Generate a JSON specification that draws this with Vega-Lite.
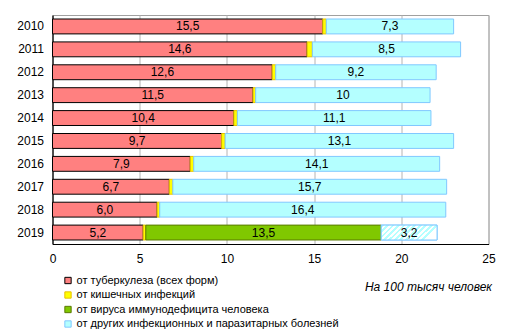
{
  "$schema": "https://vega.github.io/schema/vega-lite/v6.json",
  "width": 436,
  "height": 229,
  "autosize": {"type": "none"},
  "padding": {"left": 52.5, "top": 15, "right": 22.5, "bottom": 90},
  "background": "white",
  "config": {
    "font": "Liberation Sans",
    "view": {"stroke": "#a0a0a0", "strokeWidth": 1}
  },
  "data": {
    "values": [
      {"year": "2010", "k": 1, "cat": "от туберкулеза (всех форм)", "value": 15.5, "label": "15,5"},
      {"year": "2010", "k": 2, "cat": "от кишечных инфекций", "value": 0.2, "label": ""},
      {"year": "2010", "k": 4, "cat": "от других инфекционных  и  паразитарных болезней", "value": 7.3, "label": "7,3"},
      {"year": "2011", "k": 1, "cat": "от туберкулеза (всех форм)", "value": 14.6, "label": "14,6"},
      {"year": "2011", "k": 2, "cat": "от кишечных инфекций", "value": 0.3, "label": ""},
      {"year": "2011", "k": 4, "cat": "от других инфекционных  и  паразитарных болезней", "value": 8.5, "label": "8,5"},
      {"year": "2012", "k": 1, "cat": "от туберкулеза (всех форм)", "value": 12.6, "label": "12,6"},
      {"year": "2012", "k": 2, "cat": "от кишечных инфекций", "value": 0.2, "label": ""},
      {"year": "2012", "k": 4, "cat": "от других инфекционных  и  паразитарных болезней", "value": 9.2, "label": "9,2"},
      {"year": "2013", "k": 1, "cat": "от туберкулеза (всех форм)", "value": 11.5, "label": "11,5"},
      {"year": "2013", "k": 2, "cat": "от кишечных инфекций", "value": 0.15, "label": ""},
      {"year": "2013", "k": 4, "cat": "от других инфекционных  и  паразитарных болезней", "value": 10, "label": "10"},
      {"year": "2014", "k": 1, "cat": "от туберкулеза (всех форм)", "value": 10.4, "label": "10,4"},
      {"year": "2014", "k": 2, "cat": "от кишечных инфекций", "value": 0.2, "label": ""},
      {"year": "2014", "k": 4, "cat": "от других инфекционных  и  паразитарных болезней", "value": 11.1, "label": "11,1"},
      {"year": "2015", "k": 1, "cat": "от туберкулеза (всех форм)", "value": 9.7, "label": "9,7"},
      {"year": "2015", "k": 2, "cat": "от кишечных инфекций", "value": 0.2, "label": ""},
      {"year": "2015", "k": 4, "cat": "от других инфекционных  и  паразитарных болезней", "value": 13.1, "label": "13,1"},
      {"year": "2016", "k": 1, "cat": "от туберкулеза (всех форм)", "value": 7.9, "label": "7,9"},
      {"year": "2016", "k": 2, "cat": "от кишечных инфекций", "value": 0.2, "label": ""},
      {"year": "2016", "k": 4, "cat": "от других инфекционных  и  паразитарных болезней", "value": 14.1, "label": "14,1"},
      {"year": "2017", "k": 1, "cat": "от туберкулеза (всех форм)", "value": 6.7, "label": "6,7"},
      {"year": "2017", "k": 2, "cat": "от кишечных инфекций", "value": 0.2, "label": ""},
      {"year": "2017", "k": 4, "cat": "от других инфекционных  и  паразитарных болезней", "value": 15.7, "label": "15,7"},
      {"year": "2018", "k": 1, "cat": "от туберкулеза (всех форм)", "value": 6.0, "label": "6,0"},
      {"year": "2018", "k": 2, "cat": "от кишечных инфекций", "value": 0.15, "label": ""},
      {"year": "2018", "k": 4, "cat": "от других инфекционных  и  паразитарных болезней", "value": 16.4, "label": "16,4"},
      {"year": "2019", "k": 1, "cat": "от туберкулеза (всех форм)", "value": 5.2, "label": "5,2"},
      {"year": "2019", "k": 2, "cat": "от кишечных инфекций", "value": 0.15, "label": ""},
      {"year": "2019", "k": 3, "cat": "от вируса иммунодефицита человека", "value": 13.5, "label": "13,5"},
      {"year": "2019", "k": 4, "cat": "от других инфекционных  и  паразитарных болезней", "value": 3.2, "label": "3,2"}
    ]
  },
  "transform": [
    {"stack": "value", "groupby": ["year"], "sort": [{"field": "k", "order": "ascending"}], "as": ["x0", "x1"]},
    {"calculate": "(datum.x0 + datum.x1) / 2", "as": "mid"}
  ],
  "encoding": {
    "y": {
      "field": "year",
      "type": "nominal",
      "sort": "ascending",
      "scale": {"paddingInner": 0.35, "paddingOuter": 0.175},
      "axis": {
        "title": null,
        "ticks": false,
        "labelPadding": 9,
        "labelFontSize": 12,
        "labelColor": "#000000",
        "domainColor": "#000000",
        "domainWidth": 1.2
      }
    }
  },
  "layer": [
    {
      "mark": {"type": "bar", "strokeWidth": 1},
      "encoding": {
        "x": {
          "field": "x0",
          "type": "quantitative",
          "scale": {"domain": [0, 25], "nice": false},
          "axis": {
            "values": [0, 5, 10, 15, 20, 25],
            "title": "На 100 тысяч человек",
            "titleFontStyle": "italic",
            "titleFontWeight": "normal",
            "titleFontSize": 12,
            "titleColor": "#000000",
            "titleAnchor": "end",
            "titleAlign": "right",
            "titleBaseline": "alphabetic",
            "titleX": 439,
            "titleY": 46,
            "ticks": false,
            "labelPadding": 9,
            "labelFontSize": 12,
            "labelColor": "#000000",
            "labelFlush": false,
            "domainColor": "#000000",
            "domainWidth": 1.2,
            "grid": true,
            "gridColor": "#b4b4b4",
            "gridWidth": 1
          }
        },
        "x2": {"field": "x1"},
        "fill": {
          "field": "cat",
          "type": "nominal",
          "scale": {
            "domain": ["от туберкулеза (всех форм)", "от кишечных инфекций", "от вируса иммунодефицита человека", "от других инфекционных  и  паразитарных болезней"],
            "range": ["#ff8080", "#ffff00", "#80c800", "#b4ffff"]
          },
          "legend": {
            "title": null,
            "orient": "none",
            "legendX": 10,
            "legendY": 260,
            "symbolType": "square",
            "symbolSize": 40,
            "symbolStrokeWidth": 1,
            "labelFontSize": 11,
            "labelColor": "#000000",
            "labelOffset": 3,
            "labelLimit": 400,
            "rowPadding": 2.5
          }
        },
        "stroke": {
          "field": "cat",
          "type": "nominal",
          "scale": {
            "domain": ["от туберкулеза (всех форм)", "от кишечных инфекций", "от вируса иммунодефицита человека", "от других инфекционных  и  паразитарных болезней"],
            "range": ["#000000", "#e8c000", "#5a7a00", "#80c8ff"]
          },
          "legend": {
            "title": null,
            "orient": "none",
            "legendX": 10,
            "legendY": 260,
            "symbolType": "square",
            "symbolSize": 40,
            "symbolStrokeWidth": 1,
            "labelFontSize": 11,
            "labelColor": "#000000",
            "labelOffset": 3,
            "labelLimit": 400,
            "rowPadding": 2.5
          }
        }
      }
    },
    {
      "transform": [{"filter": "datum.year == '2019' && datum.k == 4"}],
      "mark": {
        "type": "bar",
        "stroke": "#80c8ff",
        "strokeWidth": 1,
        "fill": {
          "gradient": "linear",
          "x1": 0, "y1": 0, "x2": 1, "y2": 0.27,
          "stops": [
            {"offset": 0.0, "color": "#b4ffff"}, {"offset": 0.045, "color": "#b4ffff"}, {"offset": 0.045, "color": "#ffffff"}, {"offset": 0.091, "color": "#ffffff"},
            {"offset": 0.091, "color": "#b4ffff"}, {"offset": 0.136, "color": "#b4ffff"}, {"offset": 0.136, "color": "#ffffff"}, {"offset": 0.182, "color": "#ffffff"},
            {"offset": 0.182, "color": "#b4ffff"}, {"offset": 0.227, "color": "#b4ffff"}, {"offset": 0.227, "color": "#ffffff"}, {"offset": 0.273, "color": "#ffffff"},
            {"offset": 0.273, "color": "#b4ffff"}, {"offset": 0.318, "color": "#b4ffff"}, {"offset": 0.318, "color": "#ffffff"}, {"offset": 0.364, "color": "#ffffff"},
            {"offset": 0.364, "color": "#b4ffff"}, {"offset": 0.409, "color": "#b4ffff"}, {"offset": 0.409, "color": "#ffffff"}, {"offset": 0.455, "color": "#ffffff"},
            {"offset": 0.455, "color": "#b4ffff"}, {"offset": 0.5, "color": "#b4ffff"}, {"offset": 0.5, "color": "#ffffff"}, {"offset": 0.545, "color": "#ffffff"},
            {"offset": 0.545, "color": "#b4ffff"}, {"offset": 0.591, "color": "#b4ffff"}, {"offset": 0.591, "color": "#ffffff"}, {"offset": 0.636, "color": "#ffffff"},
            {"offset": 0.636, "color": "#b4ffff"}, {"offset": 0.682, "color": "#b4ffff"}, {"offset": 0.682, "color": "#ffffff"}, {"offset": 0.727, "color": "#ffffff"},
            {"offset": 0.727, "color": "#b4ffff"}, {"offset": 0.773, "color": "#b4ffff"}, {"offset": 0.773, "color": "#ffffff"}, {"offset": 0.818, "color": "#ffffff"},
            {"offset": 0.818, "color": "#b4ffff"}, {"offset": 0.864, "color": "#b4ffff"}, {"offset": 0.864, "color": "#ffffff"}, {"offset": 0.909, "color": "#ffffff"},
            {"offset": 0.909, "color": "#b4ffff"}, {"offset": 0.955, "color": "#b4ffff"}, {"offset": 0.955, "color": "#ffffff"}, {"offset": 1.0, "color": "#ffffff"}
          ]
        }
      },
      "encoding": {
        "x": {"field": "x0", "type": "quantitative"},
        "x2": {"field": "x1"}
      }
    },
    {
      "transform": [{"filter": "datum.label != ''"}],
      "mark": {"type": "text", "fontSize": 12, "color": "#000000", "align": "center", "baseline": "middle"},
      "encoding": {
        "x": {"field": "mid", "type": "quantitative"},
        "text": {"field": "label", "type": "nominal"}
      }
    }
  ]
}
